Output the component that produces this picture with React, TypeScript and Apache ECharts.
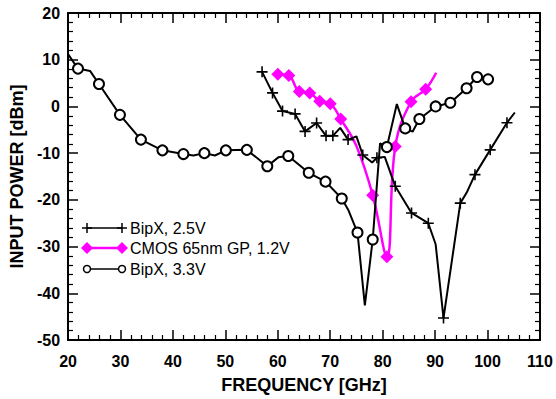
import React, { useEffect, useRef } from "react";
import * as echarts from "echarts";

// BipX, 2.5V
const bipx25Freq = [57.0, 59.0, 60.9, 63.3, 65.2, 67.4, 69.2, 70.5, 71.9, 73.4, 75.0, 76.2, 78.0, 78.9, 80.4, 82.4, 85.5, 88.7, 90.1, 91.6, 94.8, 96.0, 97.6, 100.5, 103.7, 105.2];
const bipx25Power = [7.4, 2.9, -1.0, -1.6, -5.35, -3.55, -6.3, -6.3, -4.6, -7.1, -6.4, -10.4, -12.0, -11.0, -10.8, -17.1, -22.8, -25.0, -29.5, -45.3, -20.7, -18.5, -14.6, -9.3, -3.5, -1.3];
const bipx25Marked = [1, 1, 1, 1, 1, 1, 1, 1, 0, 1, 0, 1, 0, 1, 0, 1, 1, 1, 0, 1, 1, 0, 1, 1, 1, 0];

// CMOS 65nm GP, 1.2V
const cmosFreq = [60.0, 62.1, 64.1, 66.1, 68.0, 70.0, 72.0, 75.0, 78.1, 80.8, 82.4, 85.4, 88.2, 90.2];
const cmosPower = [6.9, 6.6, 3.2, 2.9, 1.1, 0.6, -2.7, -8.5, -19.0, -32.2, -8.6, 1.0, 3.7, 7.2];
const cmosMarked = [1, 1, 1, 1, 1, 1, 1, 0, 1, 1, 1, 1, 1, 0];

// BipX, 3.3V
const bipx33Freq = [20.0, 21.9, 24.2, 25.9, 29.9, 33.9, 38.0, 42.0, 43.9, 46.0, 48.0, 50.1, 54.1, 58.0, 60.1, 62.0, 65.9, 69.1, 72.2, 73.5, 75.2, 76.6, 78.1, 79.5, 80.8, 82.7, 84.3, 85.7, 87.0, 90.1, 92.9, 96.0, 98.0, 100.1];
const bipx33Power = [11.2, 8.1, 7.6, 4.8, -1.8, -7.1, -9.4, -10.2, -10.5, -10.0, -10.5, -9.4, -9.3, -12.8, -10.9, -10.6, -14.2, -16.1, -19.7, -22.3, -27.0, -42.6, -28.5, -7.9, -8.7, 0.5, -4.7, -5.4, -2.7, 0.0, 0.8, 3.9, 6.3, 5.8];
const bipx33Marked = [0, 1, 0, 1, 1, 1, 1, 1, 0, 1, 0, 1, 1, 1, 0, 1, 1, 1, 1, 0, 1, 0, 1, 0, 1, 0, 1, 0, 1, 1, 1, 1, 1, 1];

const seriesNames = ["BipX, 2.5V", "CMOS 65nm GP, 1.2V", "BipX, 3.3V"];

const xMin = 20, xMax = 110, xStep = 10;
const yMin = -50, yMax = 20, yStep = 10;

const FONT = "'Liberation Sans', Arial, Helvetica, sans-serif";
const PLUS = "path://M5,0L5,10M0,5L10,5";

function build(freq: number[], power: number[], marked: number[]) {
  return freq.map((f, i) =>
    marked[i] ? { value: [f, power[i]] } : { value: [f, power[i]], symbol: "none" }
  );
}

function axisCommon(showLabels: boolean) {
  return {
    axisLine: { show: true, onZero: false, lineStyle: { color: "#000", width: 2 } },
    axisTick: { show: true, inside: true, length: 10, lineStyle: { color: "#000", width: 1.5 } },
    minorTick: { show: true, splitNumber: 5, length: 5, lineStyle: { color: "#000", width: 1.2 } },
    splitLine: { show: false },
    minorSplitLine: { show: false },
    axisLabel: {
      show: showLabels,
      color: "#000",
      fontSize: 16,
      fontWeight: "bold",
      fontFamily: FONT,
    },
  };
}

export default function App() {
  const ref = useRef<HTMLDivElement>(null);
  useEffect(() => {
    if (!ref.current) return;
    const chart = echarts.init(ref.current, null, { renderer: "svg" });

    const lx1 = 87, lx2 = 122, tx = 130;
    const rows = [228, 248, 269];
    const legendGraphics: any[] = [];
    // row 1: plus markers
    legendGraphics.push({ type: "line", shape: { x1: lx1, y1: rows[0], x2: lx2, y2: rows[0] }, style: { stroke: "#000", lineWidth: 1.5 } });
    [lx1, lx2].forEach((x) => {
      legendGraphics.push({ type: "line", shape: { x1: x - 5, y1: rows[0], x2: x + 5, y2: rows[0] }, style: { stroke: "#000", lineWidth: 1.5 } });
      legendGraphics.push({ type: "line", shape: { x1: x, y1: rows[0] - 5, x2: x, y2: rows[0] + 5 }, style: { stroke: "#000", lineWidth: 1.5 } });
    });
    // row 2: diamonds
    legendGraphics.push({ type: "line", shape: { x1: lx1, y1: rows[1], x2: lx2, y2: rows[1] }, style: { stroke: "#ff00ff", lineWidth: 2.5 } });
    [lx1, lx2].forEach((x) => {
      legendGraphics.push({ type: "polygon", shape: { points: [[x - 6, rows[1]], [x, rows[1] - 6], [x + 6, rows[1]], [x, rows[1] + 6]] }, style: { fill: "#ff00ff" } });
    });
    // row 3: circles
    legendGraphics.push({ type: "line", shape: { x1: lx1, y1: rows[2], x2: lx2, y2: rows[2] }, style: { stroke: "#000", lineWidth: 1.5 } });
    [lx1, lx2].forEach((x) => {
      legendGraphics.push({ type: "circle", shape: { cx: x, cy: rows[2], r: 3.5 }, style: { fill: "#fff", stroke: "#000", lineWidth: 1.5 } });
    });
    seriesNames.forEach((n, i) => {
      legendGraphics.push({
        type: "text",
        x: tx,
        y: rows[i],
        style: { text: n, fill: "#000", fontSize: 16, fontFamily: FONT, fontWeight: "normal", verticalAlign: "middle", align: "left" },
      });
    });

    chart.setOption({
      animation: false,
      backgroundColor: "#fff",
      grid: { left: 68, right: 16, top: 13, bottom: 58, containLabel: false },
      xAxis: [
        {
          type: "value", min: xMin, max: xMax, interval: xStep, position: "bottom",
          ...axisCommon(true),
          axisLabel: { ...axisCommon(true).axisLabel, margin: 13 },
          name: "FREQUENCY [GHz]", nameLocation: "middle", nameGap: 36,
          nameTextStyle: { color: "#000", fontSize: 18, fontWeight: "bold", fontFamily: FONT },
        },
        { type: "value", min: xMin, max: xMax, interval: xStep, position: "top", ...axisCommon(false) },
      ],
      yAxis: [
        {
          type: "value", min: yMin, max: yMax, interval: yStep, position: "left",
          ...axisCommon(true),
          axisLabel: { ...axisCommon(true).axisLabel, margin: 8 },
          name: "INPUT POWER [dBm]", nameLocation: "middle", nameGap: 37,
          nameTextStyle: { color: "#000", fontSize: 18, fontWeight: "bold", fontFamily: FONT },
        },
        { type: "value", min: yMin, max: yMax, interval: yStep, position: "right", ...axisCommon(false) },
      ],
      series: [
        {
          name: seriesNames[0], type: "line",
          data: build(bipx25Freq, bipx25Power, bipx25Marked),
          symbol: PLUS, symbolSize: 11, showAllSymbol: true,
          lineStyle: { color: "#000", width: 2 },
          itemStyle: { color: "#000", borderColor: "#000", borderWidth: 1.6 },
          z: 3,
        },
        {
          name: seriesNames[1], type: "line",
          data: build(cmosFreq, cmosPower, cmosMarked),
          symbol: "diamond", symbolSize: 13, showAllSymbol: true,
          smooth: 0.4,
          lineStyle: { color: "#ff00ff", width: 2.5 },
          itemStyle: { color: "#ff00ff" },
          z: 2,
        },
        {
          name: seriesNames[2], type: "line",
          data: build(bipx33Freq, bipx33Power, bipx33Marked),
          symbol: "emptyCircle", symbolSize: 10, showAllSymbol: true,
          lineStyle: { color: "#000", width: 2 },
          itemStyle: { color: "#000", borderColor: "#000", borderWidth: 1.5 },
          z: 4,
        },
      ],
      graphic: legendGraphics,
    });
    return () => chart.dispose();
  }, []);
  return <div ref={ref} style={{ width: 556, height: 399, position: "absolute", left: 0, top: 0 }} />;
}
